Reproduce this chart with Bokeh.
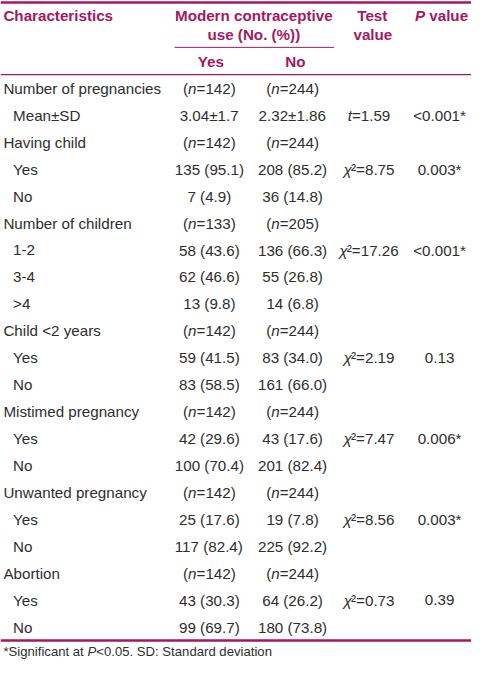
from bokeh.plotting import figure
from bokeh.models import Range1d
from bokeh.core.properties import value
from bokeh.embed import file_html
from bokeh.resources import INLINE

# ---------------- data ----------------
row_labels = ["Number of pregnancies", "Mean±SD", "Having child", "Yes", "No",
              "Number of children", "1-2", "3-4", ">4", "Child <2 years", "Yes", "No",
              "Mistimed pregnancy", "Yes", "No", "Unwanted pregnancy", "Yes", "No",
              "Abortion", "Yes", "No"]
row_indent = [0, 1, 0, 1, 1, 0, 1, 1, 1, 0, 1, 1, 0, 1, 1, 0, 1, 1, 0, 1, 1]
yes_use = ["n=142", "3.04±1.7", "n=142", "135 (95.1)", "7 (4.9)", "n=133",
           "58 (43.6)", "62 (46.6)", "13 (9.8)", "n=142", "59 (41.5)", "83 (58.5)",
           "n=142", "42 (29.6)", "100 (70.4)", "n=142", "25 (17.6)", "117 (82.4)",
           "n=142", "43 (30.3)", "99 (69.7)"]
no_use = ["n=244", "2.32±1.86", "n=244", "208 (85.2)", "36 (14.8)", "n=205",
          "136 (66.3)", "55 (26.8)", "14 (6.8)", "n=244", "83 (34.0)", "161 (66.0)",
          "n=244", "43 (17.6)", "201 (82.4)", "n=244", "19 (7.8)", "225 (92.2)",
          "n=244", "64 (26.2)", "180 (73.8)"]
test_stat = ["", "t", "", "chi", "", "", "chi", "", "", "", "chi", "", "", "chi", "",
             "", "chi", "", "", "chi", ""]
test_val = ["", "1.59", "", "8.75", "", "", "17.26", "", "", "", "2.19", "", "", "7.47", "",
            "", "8.56", "", "", "0.73", ""]
p_values = ["", "<0.001*", "", "0.003*", "", "", "<0.001*", "", "", "", "0.13", "", "",
            "0.006*", "", "", "0.003*", "", "", "0.39", ""]
col_headers = ["Characteristics", "Modern contraceptive", "use (No. (%))", "Test", "value", "P", " value"]
sub_headers = ["Yes", "No"]
footnote = ["*Significant at ", "P", "<0.05. SD: Standard deviation"]

# ---------------- layout ----------------
REF_W, REF_H = 487, 676
W, H = 471, 660
S = W / REF_W
MAGENTA = "#a3185f"
TEXT = "#2e2e2e"
FONT = "Liberation Sans"
BODY = 15.7 * S
FOOT = 13.6 * S

X_LABEL, X_INDENT = 3, 13
X_YES, X_NO, X_TEST, X_P = 216, 302, 381, 454
ROW0, ROW_H = 90, 27.6

ARIAL = {' ': 278, '(': 333, ')': 333, '=': 584, '.': 278, '±': 584, '<': 584, '>': 584,
         '*': 389, '-': 333, '²': 333, 'χ': 500, 'P': 667, 'S': 667, 'D': 722, ':': 278,
         't': 278, 'i': 222, 'l': 222, 'f': 278, 'r': 333, 'c': 500, 'v': 500, 's': 500,
         'Y': 667, 'N': 722, 'M': 833, 'T': 611, 'C': 722, 'k': 500, 'y': 500}
ARIAL_B = {' ': 278, '(': 333, ')': 333, '.': 278, '%': 889, 'P': 667, 'T': 611, 'Y': 667,
           'N': 722, 'M': 833, 'C': 722, 'a': 556, 'c': 556, 'd': 611, 'e': 556, 'h': 611,
           'i': 278, 'l': 278, 'm': 889, 'n': 611, 'o': 611, 'p': 611, 'r': 389, 's': 556,
           't': 333, 'u': 611, 'v': 556}


def text_width(s, size, bold=False):
    table = ARIAL_B if bold else ARIAL
    return sum(table.get(ch, 556) for ch in s) * size / 1000.0


p = figure(width=W, height=H, x_range=Range1d(0, REF_W), y_range=Range1d(REF_H, 0),
           output_backend="svg", toolbar_location=None, min_border=0,
           x_axis_location=None, y_axis_location=None)
p.grid.visible = False
p.outline_line_color = None
p.background_fill_color = "white"
p.border_fill_color = "white"


def runs(x, y, parts, anchor="center", size=BODY, color=TEXT, bold=False):
    """parts: list of (text, italic, super)"""
    total = sum(text_width(t, size, bold) for t, it, sup in parts)
    off = {"left": 0, "center": -total / 2, "right": -total}[anchor]
    for t, it, sup in parts:
        style = ("bold " if bold else "") + ("italic" if it else "")
        style = style.strip() or "normal"
        lead = len(t) - len(t.lstrip(" "))
        shown = t.strip(" ")
        lead_w = text_width(" " * lead, size, bold)
        p.text(x=[x], y=[y], text=[shown], x_offset=off + lead_w, y_offset=0,
               text_align="left", text_baseline="middle",
               text_font=value(FONT), text_font_size=f"{size:.2f}px",
               text_font_style=style, text_color=color)
        off += text_width(t, size, bold)


def cell(x, y, s):
    if s.startswith("n="):
        runs(x, y, [("(", False, False), ("n", True, False), (s[1:] + ")", False, False)])
    elif s:
        runs(x, y, [(s, False, False)])


# rules
p.segment(x0=[0], y0=[2], x1=[REF_W], y1=[2], line_color=MAGENTA, line_width=2.5)
p.segment(x0=[180], y0=[48], x1=[345], y1=[48], line_color=MAGENTA, line_width=1)
p.segment(x0=[0], y0=[76], x1=[REF_W], y1=[76], line_color=MAGENTA, line_width=1.2)
p.segment(x0=[0], y0=[655.5], x1=[REF_W], y1=[655.5], line_color=MAGENTA, line_width=2.5)

# headers
runs(X_LABEL, 15, [(col_headers[0], False, False)], anchor="left", color=MAGENTA, bold=True)
runs(262, 15, [(col_headers[1], False, False)], color=MAGENTA, bold=True)
runs(262, 35, [(col_headers[2], False, False)], color=MAGENTA, bold=True)
runs(385, 15, [(col_headers[3], False, False)], color=MAGENTA, bold=True)
runs(385, 35, [(col_headers[4], False, False)], color=MAGENTA, bold=True)
runs(456, 15, [(col_headers[5], True, False), (col_headers[6], False, False)], color=MAGENTA, bold=True)
runs(218, 62, [(sub_headers[0], False, False)], color=MAGENTA, bold=True)
runs(305, 62, [(sub_headers[1], False, False)], color=MAGENTA, bold=True)

# body
for i, lab in enumerate(row_labels):
    y = ROW0 + i * ROW_H
    runs(X_INDENT if row_indent[i] else X_LABEL, y, [(lab, False, False)], anchor="left")
    cell(X_YES, y, yes_use[i])
    cell(X_NO, y, no_use[i])
    if test_stat[i] == "t":
        runs(X_TEST, y, [("t", True, False), ("=" + test_val[i], False, False)])
    elif test_stat[i] == "chi":
        runs(X_TEST, y, [("χ", True, False), ("²=" + test_val[i], False, False)])
    if p_values[i]:
        runs(X_P, y, [(p_values[i], False, False)])

# footnote
runs(X_LABEL, 667, [(footnote[0], False, False), (footnote[1], True, False),
                    (footnote[2], False, False)], anchor="left", size=FOOT)

open("out.html", "w").write(file_html(p, INLINE))
